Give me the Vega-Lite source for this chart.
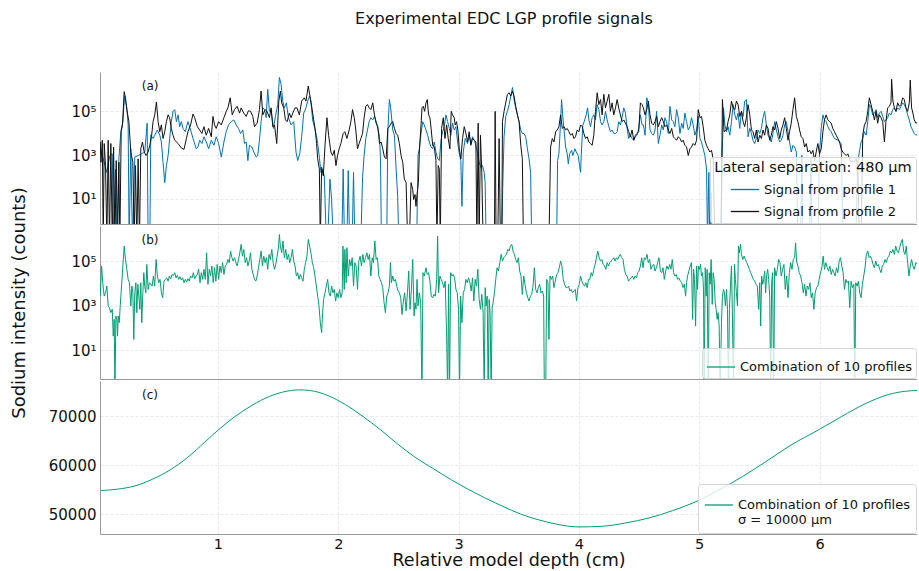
{
  "$schema": "https://vega.github.io/schema/vega-lite/v6.json",
  "background": "white",
  "padding": {"left": 10, "top": 11, "right": 0, "bottom": 0},
  "bounds": "flush",
  "title": {"text": "Experimental EDC LGP profile signals", "fontSize": 16, "font": "DejaVu Sans", "fontWeight": "normal", "anchor": "middle", "dx": 40, "offset": 45, "color": "#111111"},
  "datasets": {
    "p1": [
{"d":0.022,"v":3.29},{"d":0.047,"v":2.83},{"d":0.075,"v":2.21},{"d":0.102,"v":2.98},{"d":0.122,"v":3.06},{"d":0.135,"v":-1},{"d":0.149,"v":2.36},{"d":0.16,"v":-1},{"d":0.177,"v":2.83},{"d":0.193,"v":4.07},{"d":0.21,"v":4.53},{"d":0.224,"v":5.7},{"d":0.243,"v":5.16},{"d":0.254,"v":4.38},{"d":0.262,"v":-1},{"d":0.276,"v":3.29},{"d":0.29,"v":-1},{"d":0.309,"v":2.91},{"d":0.337,"v":2.98},{"d":0.365,"v":3.06},{"d":0.392,"v":3.14},{"d":0.412,"v":4.46},{"d":0.42,"v":-1},{"d":0.434,"v":-1},{"d":0.442,"v":3.91},{"d":0.461,"v":3.76},{"d":0.475,"v":3.91},{"d":0.497,"v":4.15},{"d":0.517,"v":3.91},{"d":0.53,"v":3.6},{"d":0.544,"v":2.67},{"d":0.558,"v":1.74},{"d":0.572,"v":2.52},{"d":0.586,"v":2.98},{"d":0.599,"v":3.76},{"d":0.613,"v":4.53},{"d":0.627,"v":5.0},{"d":0.641,"v":5.08},{"d":0.655,"v":4.53},{"d":0.669,"v":4.84},{"d":0.682,"v":4.3},{"d":0.696,"v":4.53},{"d":0.71,"v":4.22},{"d":0.729,"v":4.07},{"d":0.751,"v":4.53},{"d":0.773,"v":4.15},{"d":0.793,"v":3.76},{"d":0.82,"v":3.29},{"d":0.834,"v":3.37},{"d":0.848,"v":3.68},{"d":0.867,"v":3.53},{"d":0.884,"v":3.84},{"d":0.903,"v":3.6},{"d":0.923,"v":3.29},{"d":0.945,"v":3.68},{"d":0.967,"v":3.45},{"d":0.986,"v":3.84},{"d":1.006,"v":3.53},{"d":1.028,"v":2.91},{"d":1.05,"v":3.6},{"d":1.069,"v":4.07},{"d":1.088,"v":4.38},{"d":1.11,"v":4.53},{"d":1.133,"v":4.61},{"d":1.152,"v":4.38},{"d":1.171,"v":4.22},{"d":1.188,"v":3.99},{"d":1.207,"v":4.15},{"d":1.221,"v":3.53},{"d":1.235,"v":3.6},{"d":1.249,"v":2.75},{"d":1.262,"v":3.45},{"d":1.282,"v":3.37},{"d":1.298,"v":3.14},{"d":1.318,"v":2.91},{"d":1.331,"v":2.98},{"d":1.345,"v":3.68},{"d":1.359,"v":4.53},{"d":1.373,"v":5.16},{"d":1.387,"v":5.08},{"d":1.401,"v":4.71},{"d":1.414,"v":6.01},{"d":1.428,"v":5.0},{"d":1.442,"v":5.08},{"d":1.461,"v":4.22},{"d":1.478,"v":4.77},{"d":1.497,"v":5.31},{"d":1.511,"v":6.55},{"d":1.525,"v":6.24},{"d":1.539,"v":5.47},{"d":1.552,"v":5.16},{"d":1.569,"v":5.39},{"d":1.586,"v":4.71},{"d":1.608,"v":4.38},{"d":1.63,"v":4.53},{"d":1.649,"v":3.14},{"d":1.663,"v":2.75},{"d":1.68,"v":3.06},{"d":1.696,"v":3.84},{"d":1.713,"v":4.92},{"d":1.732,"v":5.16},{"d":1.746,"v":5.47},{"d":1.762,"v":5.7},{"d":1.773,"v":5.47},{"d":1.787,"v":4.61},{"d":1.801,"v":4.3},{"d":1.818,"v":3.91},{"d":1.829,"v":3.53},{"d":1.843,"v":2.91},{"d":1.856,"v":2.21},{"d":1.87,"v":2.36},{"d":1.884,"v":2.05},{"d":1.901,"v":-1},{"d":1.912,"v":-1},{"d":1.931,"v":1.9},{"d":1.945,"v":0.97},{"d":1.959,"v":-1},{"d":2.03,"v":-1},{"d":2.041,"v":2.36},{"d":2.052,"v":-1},{"d":2.072,"v":-1},{"d":2.083,"v":2.29},{"d":2.094,"v":-1},{"d":2.116,"v":-1},{"d":2.127,"v":2.21},{"d":2.138,"v":-1},{"d":2.188,"v":-1},{"d":2.202,"v":1.98},{"d":2.215,"v":2.98},{"d":2.229,"v":3.76},{"d":2.243,"v":4.15},{"d":2.257,"v":4.53},{"d":2.271,"v":4.71},
{"d":2.287,"v":4.61},{"d":2.301,"v":4.77},{"d":2.315,"v":4.53},{"d":2.329,"v":4.22},{"d":2.343,"v":3.84},{"d":2.351,"v":2.83},{"d":2.359,"v":-1},{"d":2.403,"v":-1},{"d":2.412,"v":4.07},{"d":2.425,"v":5.54},{"d":2.436,"v":5.16},{"d":2.453,"v":4.15},{"d":2.467,"v":3.91},{"d":2.481,"v":2.36},{"d":2.494,"v":1.12},{"d":2.503,"v":-1},{"d":2.652,"v":-1},{"d":2.663,"v":2.98},{"d":2.674,"v":3.29},{"d":2.688,"v":3.99},{"d":2.702,"v":4.53},{"d":2.715,"v":4.38},{"d":2.729,"v":4.15},{"d":2.743,"v":3.91},{"d":2.757,"v":3.6},{"d":2.771,"v":3.37},{"d":2.785,"v":3.29},{"d":2.798,"v":3.6},{"d":2.812,"v":3.14},{"d":2.826,"v":2.83},{"d":2.84,"v":2.75},{"d":2.854,"v":3.68},{"d":2.867,"v":4.07},{"d":2.881,"v":4.3},{"d":2.895,"v":4.84},{"d":2.909,"v":4.53},{"d":2.923,"v":4.22},{"d":2.936,"v":3.91},{"d":2.95,"v":4.46},{"d":2.964,"v":4.15},{"d":2.978,"v":4.3},{"d":2.992,"v":3.6},{"d":3.006,"v":3.06},{"d":3.019,"v":2.75},{"d":3.028,"v":0.66},{"d":3.039,"v":3.14},{"d":3.055,"v":3.76},{"d":3.075,"v":3.53},{"d":3.088,"v":3.91},{"d":3.102,"v":3.53},{"d":3.116,"v":3.84},{"d":3.13,"v":3.68},{"d":3.144,"v":3.45},{"d":3.157,"v":3.06},{"d":3.171,"v":2.67},{"d":3.185,"v":2.44},{"d":3.199,"v":2.52},{"d":3.213,"v":2.21},{"d":3.221,"v":1.74},{"d":3.229,"v":-1},{"d":3.359,"v":-1},{"d":3.367,"v":1.51},{"d":3.378,"v":3.84},{"d":3.392,"v":4.77},{"d":3.406,"v":5.0},{"d":3.42,"v":5.31},{"d":3.434,"v":5.7},{"d":3.448,"v":6.09},{"d":3.461,"v":5.54},{"d":3.475,"v":5.16},{"d":3.489,"v":4.84},{"d":3.503,"v":4.53},{"d":3.517,"v":4.15},{"d":3.53,"v":3.99},{"d":3.544,"v":3.99},{"d":3.558,"v":3.84},{"d":3.572,"v":3.29},{"d":3.586,"v":2.83},{"d":3.599,"v":2.21},{"d":3.608,"v":-1},{"d":3.815,"v":-1},{"d":3.823,"v":2.75},{"d":3.834,"v":3.06},{"d":3.848,"v":4.53},{"d":3.856,"v":5.54},{"d":3.867,"v":4.71},{"d":3.878,"v":4.07},{"d":3.89,"v":3.37},{"d":3.903,"v":3.06},{"d":3.912,"v":2.6},{"d":3.923,"v":3.06},{"d":3.939,"v":3.22},{"d":3.95,"v":2.98},{"d":3.967,"v":3.29},{"d":3.978,"v":3.14},{"d":3.994,"v":2.98},{"d":4.006,"v":2.52},{"d":4.014,"v":2.21},{"d":4.022,"v":3.29},{"d":4.033,"v":4.38},{"d":4.044,"v":4.53},{"d":4.061,"v":4.84},{"d":4.072,"v":5.16},{"d":4.083,"v":4.61},{"d":4.097,"v":4.3},{"d":4.11,"v":4.71},{"d":4.124,"v":4.84},{"d":4.138,"v":4.61},{"d":4.152,"v":5.31},{"d":4.166,"v":5.08},{"d":4.18,"v":4.53},{"d":4.193,"v":4.38},{"d":4.207,"v":4.53},{"d":4.221,"v":5.0},{"d":4.235,"v":4.61},{"d":4.249,"v":4.3},{"d":4.262,"v":4.07},{"d":4.276,"v":4.15},{"d":4.29,"v":3.99},{"d":4.304,"v":3.99},{"d":4.318,"v":4.07},{"d":4.331,"v":4.53},{"d":4.345,"v":4.38},{"d":4.359,"v":4.71},{"d":4.373,"v":5.16},{"d":4.387,"v":4.92},{"d":4.401,"v":4.22},{"d":4.414,"v":3.76},{"d":4.428,"v":3.91},{"d":4.442,"v":3.76},{"d":4.456,"v":3.68},{"d":4.47,"v":3.84},{"d":4.483,"v":3.91},{"d":4.497,"v":4.22},{"d":4.511,"v":4.84},{"d":4.525,"v":4.38},
{"d":4.536,"v":4.38},{"d":4.55,"v":3.91},{"d":4.564,"v":5.62},{"d":4.577,"v":5.39},{"d":4.591,"v":4.15},{"d":4.605,"v":3.99},{"d":4.619,"v":3.91},{"d":4.633,"v":4.15},{"d":4.646,"v":5.0},{"d":4.66,"v":3.53},{"d":4.674,"v":3.91},{"d":4.688,"v":4.38},{"d":4.702,"v":4.15},{"d":4.715,"v":4.71},{"d":4.729,"v":4.53},{"d":4.743,"v":3.99},{"d":4.757,"v":5.23},{"d":4.771,"v":4.61},{"d":4.785,"v":4.53},{"d":4.798,"v":4.3},{"d":4.812,"v":5.08},{"d":4.826,"v":4.71},{"d":4.84,"v":3.99},{"d":4.854,"v":4.46},{"d":4.867,"v":4.22},{"d":4.881,"v":4.92},{"d":4.895,"v":4.53},{"d":4.909,"v":4.15},{"d":4.923,"v":4.3},{"d":4.936,"v":4.71},{"d":4.95,"v":4.38},{"d":4.964,"v":3.91},{"d":4.978,"v":4.15},{"d":4.992,"v":4.77},{"d":5.006,"v":3.76},{"d":5.019,"v":3.6},{"d":5.033,"v":3.29},{"d":5.047,"v":2.98},{"d":5.061,"v":2.36},{"d":5.069,"v":-1},{"d":5.08,"v":2.21},{"d":5.088,"v":-1},{"d":5.099,"v":1.28},{"d":5.108,"v":-1},{"d":5.18,"v":-1},{"d":5.191,"v":2.98},{"d":5.202,"v":5.16},{"d":5.213,"v":4.38},{"d":5.227,"v":4.07},{"d":5.24,"v":4.3},{"d":5.254,"v":3.91},{"d":5.268,"v":4.53},{"d":5.282,"v":5.31},{"d":5.296,"v":4.84},{"d":5.309,"v":4.61},{"d":5.323,"v":4.92},{"d":5.337,"v":4.22},{"d":5.351,"v":5.0},{"d":5.365,"v":4.77},{"d":5.378,"v":5.47},{"d":5.392,"v":5.54},{"d":5.406,"v":3.84},{"d":5.42,"v":4.22},{"d":5.434,"v":3.99},{"d":5.447,"v":3.68},{"d":5.461,"v":3.53},{"d":5.475,"v":3.76},{"d":5.489,"v":4.15},{"d":5.503,"v":3.99},{"d":5.517,"v":4.22},{"d":5.53,"v":4.71},{"d":5.544,"v":5.0},{"d":5.558,"v":4.38},{"d":5.572,"v":3.91},{"d":5.586,"v":3.76},{"d":5.599,"v":3.6},{"d":5.613,"v":3.99},{"d":5.627,"v":4.53},{"d":5.641,"v":4.15},{"d":5.655,"v":3.84},{"d":5.669,"v":3.6},{"d":5.682,"v":3.68},{"d":5.696,"v":3.91},{"d":5.71,"v":4.38},{"d":5.724,"v":4.53},{"d":5.738,"v":4.07},{"d":5.751,"v":3.6},{"d":5.765,"v":3.14},{"d":5.779,"v":3.45},{"d":5.793,"v":3.37},{"d":5.807,"v":3.14},{"d":5.82,"v":-1},{"d":5.842,"v":-1},{"d":5.853,"v":2.98},{"d":5.862,"v":-1},{"d":5.917,"v":-1},{"d":5.928,"v":2.83},{"d":5.939,"v":-1},{"d":5.986,"v":-1},{"d":6.0,"v":3.14},{"d":6.014,"v":4.22},{"d":6.028,"v":4.84},{"d":6.041,"v":4.61},{"d":6.055,"v":4.53},{"d":6.069,"v":4.3},{"d":6.083,"v":4.15},{"d":6.097,"v":4.07},{"d":6.11,"v":3.91},{"d":6.124,"v":3.76},{"d":6.152,"v":3.68},{"d":6.18,"v":3.53},{"d":6.196,"v":-1},{"d":6.301,"v":-1},{"d":6.318,"v":2.67},{"d":6.331,"v":3.14},{"d":6.345,"v":3.6},{"d":6.359,"v":3.76},{"d":6.373,"v":4.07},{"d":6.387,"v":3.91},{"d":6.401,"v":4.53},{"d":6.414,"v":5.31},{"d":6.428,"v":5.16},{"d":6.442,"v":4.84},{"d":6.456,"v":4.92},{"d":6.47,"v":5.08},{"d":6.483,"v":4.71},{"d":6.497,"v":4.92},{"d":6.511,"v":5.0},{"d":6.525,"v":4.77},{"d":6.539,"v":4.53},{"d":6.552,"v":4.61},{"d":6.566,"v":4.71},{"d":6.58,"v":4.92},{"d":6.594,"v":4.84},{"d":6.608,"v":5.08},{"d":6.622,"v":5.16},{"d":6.635,"v":5.0},{"d":6.649,"v":5.16},{"d":6.663,"v":5.08},{"d":6.677,"v":5.23},{"d":6.691,"v":5.39},{"d":6.704,"v":5.31},{"d":6.718,"v":5.16},{"d":6.732,"v":4.84},{"d":6.746,"v":4.61},{"d":6.76,"v":4.3},{"d":6.773,"v":4.15},{"d":6.787,"v":3.99},{"d":6.801,"v":3.91},{"d":6.815,"v":3.95}
    ],
    "p2": [
{"d":0.022,"v":3.6},{"d":0.028,"v":2.67},{"d":0.039,"v":3.68},{"d":0.047,"v":-1},{"d":0.055,"v":3.53},{"d":0.066,"v":2.52},{"d":0.077,"v":-1},{"d":0.088,"v":3.68},{"d":0.099,"v":-1},{"d":0.11,"v":3.53},{"d":0.122,"v":-1},{"d":0.133,"v":3.37},{"d":0.144,"v":-1},{"d":0.155,"v":2.75},{"d":0.166,"v":-1},{"d":0.177,"v":2.67},{"d":0.185,"v":-1},{"d":0.196,"v":4.07},{"d":0.207,"v":4.38},{"d":0.221,"v":5.9},{"d":0.232,"v":5.62},{"d":0.243,"v":5.08},{"d":0.26,"v":4.53},{"d":0.276,"v":3.14},{"d":0.293,"v":2.67},{"d":0.304,"v":-1},{"d":0.315,"v":2.52},{"d":0.326,"v":-1},{"d":0.337,"v":2.83},{"d":0.348,"v":-1},{"d":0.359,"v":3.29},{"d":0.373,"v":3.6},{"d":0.387,"v":3.14},{"d":0.403,"v":2.98},{"d":0.42,"v":3.14},{"d":0.434,"v":3.45},{"d":0.448,"v":3.84},{"d":0.461,"v":4.53},{"d":0.475,"v":4.84},{"d":0.489,"v":5.43},{"d":0.503,"v":4.53},{"d":0.517,"v":4.07},{"d":0.53,"v":4.38},{"d":0.544,"v":3.76},{"d":0.558,"v":4.07},{"d":0.572,"v":4.53},{"d":0.586,"v":4.84},{"d":0.599,"v":4.71},{"d":0.613,"v":4.22},{"d":0.627,"v":3.91},{"d":0.641,"v":3.68},{"d":0.669,"v":3.53},{"d":0.696,"v":3.33},{"d":0.718,"v":3.26},{"d":0.738,"v":3.76},{"d":0.751,"v":4.07},{"d":0.773,"v":4.38},{"d":0.793,"v":4.88},{"d":0.807,"v":4.71},{"d":0.829,"v":4.3},{"d":0.848,"v":4.15},{"d":0.867,"v":3.99},{"d":0.884,"v":4.3},{"d":0.903,"v":3.91},{"d":0.923,"v":4.22},{"d":0.945,"v":3.84},{"d":0.959,"v":4.77},{"d":0.972,"v":4.38},{"d":0.986,"v":4.22},{"d":1.006,"v":4.53},{"d":1.028,"v":4.38},{"d":1.05,"v":4.71},{"d":1.069,"v":5.0},{"d":1.083,"v":5.16},{"d":1.102,"v":5.62},{"d":1.119,"v":4.84},{"d":1.138,"v":5.08},{"d":1.16,"v":5.23},{"d":1.18,"v":4.92},{"d":1.193,"v":5.16},{"d":1.215,"v":4.92},{"d":1.235,"v":4.77},{"d":1.254,"v":5.03},{"d":1.271,"v":5.0},{"d":1.29,"v":4.77},{"d":1.304,"v":4.3},{"d":1.326,"v":4.46},{"d":1.345,"v":5.08},{"d":1.359,"v":5.93},{"d":1.373,"v":4.84},{"d":1.392,"v":5.08},{"d":1.409,"v":5.0},{"d":1.428,"v":4.71},{"d":1.442,"v":5.16},{"d":1.456,"v":4.3},{"d":1.47,"v":4.38},{"d":1.489,"v":3.53},{"d":1.506,"v":5.47},{"d":1.519,"v":5.93},{"d":1.53,"v":5.39},{"d":1.547,"v":5.16},{"d":1.561,"v":4.61},{"d":1.575,"v":4.53},{"d":1.594,"v":4.92},{"d":1.608,"v":4.71},{"d":1.622,"v":4.92},{"d":1.641,"v":5.16},{"d":1.657,"v":5.16},{"d":1.677,"v":4.84},{"d":1.696,"v":5.47},{"d":1.718,"v":5.62},{"d":1.732,"v":5.47},{"d":1.751,"v":6.16},{"d":1.765,"v":5.7},{"d":1.779,"v":5.23},{"d":1.796,"v":4.61},{"d":1.809,"v":4.15},{"d":1.82,"v":3.53},{"d":1.829,"v":2.83},{"d":1.843,"v":2.36},{"d":1.851,"v":-1},{"d":1.862,"v":2.44},{"d":1.876,"v":2.05},{"d":1.89,"v":3.45},{"d":1.906,"v":4.71},{"d":1.92,"v":3.91},{"d":1.939,"v":3.14},{"d":1.953,"v":2.98},{"d":1.967,"v":3.22},{"d":1.981,"v":2.52},{"d":1.994,"v":2.98},{"d":2.008,"v":3.29},{"d":2.022,"v":3.53},{"d":2.041,"v":3.99},{"d":2.055,"v":4.07},{"d":2.072,"v":3.76},{"d":2.091,"v":4.15},{"d":2.105,"v":4.53},{"d":2.119,"v":5.08},{"d":2.133,"v":4.71},{"d":2.146,"v":4.15},{"d":2.16,"v":3.29},{"d":2.174,"v":3.53},{"d":2.188,"v":3.76},{"d":2.202,"v":3.99},{"d":2.215,"v":4.71},{"d":2.229,"v":5.23},{"d":2.243,"v":5.31},{"d":2.257,"v":5.16},{"d":2.271,"v":5.08},
{"d":2.287,"v":5.39},{"d":2.301,"v":4.84},{"d":2.315,"v":4.46},{"d":2.329,"v":4.3},{"d":2.343,"v":3.53},{"d":2.356,"v":3.6},{"d":2.37,"v":3.29},{"d":2.384,"v":2.91},{"d":2.398,"v":2.83},{"d":2.412,"v":4.22},{"d":2.425,"v":4.3},{"d":2.439,"v":4.46},{"d":2.453,"v":4.53},{"d":2.467,"v":4.22},{"d":2.481,"v":3.99},{"d":2.494,"v":3.91},{"d":2.508,"v":3.53},{"d":2.522,"v":2.98},{"d":2.536,"v":2.67},{"d":2.549,"v":1.9},{"d":2.564,"v":1.74},{"d":2.577,"v":-1},{"d":2.591,"v":-1},{"d":2.605,"v":1.74},{"d":2.619,"v":1.43},{"d":2.627,"v":0.97},{"d":2.638,"v":1.2},{"d":2.646,"v":0.66},{"d":2.655,"v":1.2},{"d":2.666,"v":1.74},{"d":2.674,"v":3.14},{"d":2.688,"v":4.38},{"d":2.696,"v":5.16},{"d":2.707,"v":5.23},{"d":2.718,"v":5.0},{"d":2.729,"v":5.39},{"d":2.74,"v":5.54},{"d":2.751,"v":4.84},{"d":2.762,"v":4.71},{"d":2.773,"v":4.15},{"d":2.785,"v":3.45},{"d":2.798,"v":3.37},{"d":2.812,"v":2.75},{"d":2.82,"v":-1},{"d":2.831,"v":2.52},{"d":2.84,"v":2.36},{"d":2.848,"v":-1},{"d":2.859,"v":4.22},{"d":2.873,"v":4.71},{"d":2.887,"v":3.76},{"d":2.901,"v":4.38},{"d":2.914,"v":3.76},{"d":2.928,"v":3.29},{"d":2.939,"v":5.0},{"d":2.95,"v":4.84},{"d":2.964,"v":4.71},{"d":2.972,"v":4.38},{"d":2.983,"v":4.53},{"d":2.994,"v":4.15},{"d":3.006,"v":3.29},{"d":3.019,"v":2.83},{"d":3.033,"v":3.76},{"d":3.047,"v":4.3},{"d":3.061,"v":3.99},{"d":3.075,"v":3.6},{"d":3.088,"v":4.07},{"d":3.102,"v":3.45},{"d":3.116,"v":3.76},{"d":3.13,"v":3.68},{"d":3.144,"v":3.6},{"d":3.152,"v":-1},{"d":3.163,"v":4.46},{"d":3.171,"v":-1},{"d":3.182,"v":3.91},{"d":3.193,"v":2.21},{"d":3.204,"v":-1},{"d":3.298,"v":-1},{"d":3.304,"v":5.0},{"d":3.312,"v":-1},{"d":3.326,"v":-1},{"d":3.337,"v":3.76},{"d":3.348,"v":-1},{"d":3.359,"v":-1},{"d":3.365,"v":4.53},{"d":3.378,"v":5.0},{"d":3.392,"v":5.39},{"d":3.406,"v":5.78},{"d":3.42,"v":5.85},{"d":3.434,"v":5.7},{"d":3.448,"v":5.93},{"d":3.461,"v":5.7},{"d":3.475,"v":5.23},{"d":3.489,"v":4.84},{"d":3.503,"v":4.53},{"d":3.517,"v":3.45},{"d":3.53,"v":2.83},{"d":3.539,"v":-1},{"d":3.751,"v":-1},{"d":3.765,"v":3.37},{"d":3.779,"v":3.76},{"d":3.793,"v":3.6},{"d":3.807,"v":4.07},{"d":3.82,"v":4.15},{"d":3.834,"v":4.3},{"d":3.848,"v":4.84},{"d":3.862,"v":4.22},{"d":3.876,"v":4.3},{"d":3.89,"v":4.15},{"d":3.903,"v":4.22},{"d":3.917,"v":4.07},{"d":3.931,"v":3.91},{"d":3.945,"v":3.99},{"d":3.959,"v":3.76},{"d":3.972,"v":3.84},{"d":3.986,"v":4.15},{"d":4.0,"v":4.07},{"d":4.014,"v":4.38},{"d":4.028,"v":4.3},{"d":4.041,"v":3.99},{"d":4.055,"v":3.76},{"d":4.069,"v":3.84},{"d":4.083,"v":3.6},{"d":4.097,"v":3.53},{"d":4.11,"v":3.45},{"d":4.124,"v":3.91},{"d":4.138,"v":5.0},{"d":4.152,"v":5.85},{"d":4.166,"v":5.31},{"d":4.18,"v":5.54},{"d":4.193,"v":4.84},{"d":4.207,"v":5.78},{"d":4.221,"v":5.16},{"d":4.235,"v":5.47},{"d":4.249,"v":5.78},{"d":4.262,"v":5.0},{"d":4.276,"v":5.39},{"d":4.29,"v":4.84},{"d":4.304,"v":5.16},{"d":4.318,"v":5.54},{"d":4.331,"v":5.16},{"d":4.345,"v":4.84},{"d":4.359,"v":4.53},{"d":4.373,"v":4.61},{"d":4.387,"v":4.46},{"d":4.401,"v":4.3},{"d":4.414,"v":4.07},{"d":4.428,"v":3.84},{"d":4.442,"v":4.15},{"d":4.456,"v":3.68},{"d":4.47,"v":3.91},{"d":4.483,"v":3.99},{"d":4.497,"v":4.07},{"d":4.511,"v":5.39},{"d":4.525,"v":5.31},
{"d":4.536,"v":5.16},{"d":4.55,"v":4.84},{"d":4.564,"v":5.08},{"d":4.577,"v":5.47},{"d":4.591,"v":4.84},{"d":4.605,"v":4.46},{"d":4.619,"v":4.38},{"d":4.633,"v":4.53},{"d":4.646,"v":4.77},{"d":4.66,"v":4.3},{"d":4.674,"v":4.53},{"d":4.688,"v":4.71},{"d":4.702,"v":4.53},{"d":4.715,"v":4.3},{"d":4.729,"v":4.38},{"d":4.743,"v":4.15},{"d":4.757,"v":3.99},{"d":4.771,"v":4.22},{"d":4.785,"v":3.84},{"d":4.798,"v":3.76},{"d":4.812,"v":3.68},{"d":4.826,"v":3.84},{"d":4.84,"v":3.76},{"d":4.854,"v":3.6},{"d":4.867,"v":3.68},{"d":4.881,"v":3.45},{"d":4.895,"v":3.37},{"d":4.909,"v":2.98},{"d":4.923,"v":3.29},{"d":4.936,"v":3.37},{"d":4.95,"v":3.53},{"d":4.964,"v":3.45},{"d":4.978,"v":3.68},{"d":4.992,"v":5.08},{"d":5.006,"v":4.71},{"d":5.019,"v":4.77},{"d":5.033,"v":4.3},{"d":5.047,"v":3.68},{"d":5.061,"v":3.45},{"d":5.075,"v":3.29},{"d":5.088,"v":3.14},{"d":5.102,"v":3.22},{"d":5.116,"v":2.83},{"d":5.13,"v":-1},{"d":5.18,"v":-1},{"d":5.193,"v":5.54},{"d":5.207,"v":4.07},{"d":5.227,"v":4.15},{"d":5.24,"v":4.53},{"d":5.254,"v":4.84},{"d":5.268,"v":5.47},{"d":5.282,"v":5.16},{"d":5.296,"v":5.08},{"d":5.309,"v":5.47},{"d":5.323,"v":5.31},{"d":5.337,"v":4.77},{"d":5.351,"v":5.0},{"d":5.365,"v":4.53},{"d":5.378,"v":4.3},{"d":5.392,"v":4.71},{"d":5.406,"v":5.31},{"d":5.42,"v":4.84},{"d":5.434,"v":4.15},{"d":5.447,"v":4.07},{"d":5.461,"v":3.76},{"d":5.475,"v":4.15},{"d":5.489,"v":3.6},{"d":5.503,"v":3.91},{"d":5.517,"v":3.76},{"d":5.53,"v":4.15},{"d":5.544,"v":3.91},{"d":5.558,"v":4.38},{"d":5.572,"v":4.22},{"d":5.586,"v":3.68},{"d":5.599,"v":3.91},{"d":5.613,"v":4.3},{"d":5.627,"v":4.15},{"d":5.641,"v":4.53},{"d":5.655,"v":4.22},{"d":5.669,"v":3.76},{"d":5.682,"v":4.15},{"d":5.696,"v":4.38},{"d":5.71,"v":4.71},{"d":5.724,"v":4.22},{"d":5.738,"v":3.68},{"d":5.751,"v":4.07},{"d":5.765,"v":4.46},{"d":5.779,"v":5.08},{"d":5.793,"v":5.62},{"d":5.807,"v":4.77},{"d":5.82,"v":4.53},{"d":5.834,"v":4.15},{"d":5.848,"v":3.84},{"d":5.862,"v":3.76},{"d":5.876,"v":3.37},{"d":5.89,"v":3.53},{"d":5.903,"v":3.14},{"d":5.917,"v":3.22},{"d":5.931,"v":3.06},{"d":5.945,"v":3.22},{"d":5.959,"v":2.75},{"d":5.972,"v":3.14},{"d":5.986,"v":3.53},{"d":6.0,"v":3.06},{"d":6.014,"v":3.29},{"d":6.028,"v":4.07},{"d":6.041,"v":4.61},{"d":6.055,"v":4.84},{"d":6.069,"v":4.61},{"d":6.083,"v":4.53},{"d":6.097,"v":4.46},{"d":6.11,"v":4.22},{"d":6.124,"v":4.07},{"d":6.138,"v":3.91},{"d":6.152,"v":3.76},{"d":6.166,"v":3.6},{"d":6.18,"v":3.29},{"d":6.193,"v":3.14},{"d":6.207,"v":3.06},{"d":6.221,"v":2.98},{"d":6.235,"v":3.06},{"d":6.249,"v":2.83},{"d":6.262,"v":2.67},{"d":6.276,"v":2.75},{"d":6.29,"v":2.67},{"d":6.304,"v":2.83},{"d":6.318,"v":2.52},{"d":6.331,"v":-1},{"d":6.345,"v":-1},{"d":6.359,"v":3.91},{"d":6.373,"v":4.38},{"d":6.387,"v":4.53},{"d":6.401,"v":5.0},{"d":6.414,"v":5.62},{"d":6.428,"v":5.31},{"d":6.442,"v":5.0},{"d":6.456,"v":4.61},{"d":6.47,"v":5.0},{"d":6.483,"v":4.46},{"d":6.497,"v":4.84},{"d":6.511,"v":4.71},{"d":6.525,"v":4.53},{"d":6.539,"v":3.6},{"d":6.552,"v":4.53},{"d":6.566,"v":5.16},{"d":6.58,"v":5.23},{"d":6.594,"v":5.39},{"d":6.599,"v":6.47},{"d":6.61,"v":5.47},{"d":6.622,"v":5.16},{"d":6.635,"v":5.0},{"d":6.649,"v":5.39},{"d":6.663,"v":5.23},{"d":6.677,"v":5.31},{"d":6.691,"v":5.62},{"d":6.704,"v":5.54},{"d":6.718,"v":5.16},{"d":6.732,"v":5.0},{"d":6.746,"v":5.39},{"d":6.754,"v":6.43},{"d":6.765,"v":5.16},{"d":6.776,"v":4.92},{"d":6.787,"v":4.61},{"d":6.801,"v":4.46},{"d":6.815,"v":4.5}
    ],
    "comb": [
{"d":0.022,"v":3.43},{"d":0.033,"v":4.78},{"d":0.044,"v":3.96},{"d":0.055,"v":3.43},{"d":0.066,"v":3.58},{"d":0.077,"v":3.88},{"d":0.088,"v":2.99},{"d":0.099,"v":2.91},{"d":0.11,"v":2.69},{"d":0.122,"v":2.84},{"d":0.13,"v":1.64},{"d":0.138,"v":2.39},{"d":0.144,"v":-1},{"d":0.152,"v":2.54},{"d":0.16,"v":2.39},{"d":0.166,"v":1.64},{"d":0.171,"v":2.54},{"d":0.18,"v":2.24},{"d":0.188,"v":2.99},{"d":0.199,"v":3.88},{"d":0.21,"v":4.78},{"d":0.221,"v":5.67},{"d":0.232,"v":5.07},{"d":0.243,"v":4.63},{"d":0.254,"v":4.18},{"d":0.265,"v":4.03},{"d":0.276,"v":2.99},{"d":0.285,"v":3.88},{"d":0.293,"v":3.58},{"d":0.301,"v":1.49},{"d":0.309,"v":3.58},{"d":0.318,"v":4.03},{"d":0.326,"v":2.69},{"d":0.334,"v":3.96},{"d":0.343,"v":3.43},{"d":0.351,"v":2.84},{"d":0.359,"v":4.03},{"d":0.367,"v":2.24},{"d":0.376,"v":3.58},{"d":0.384,"v":4.48},{"d":0.392,"v":3.88},{"d":0.401,"v":3.58},{"d":0.409,"v":4.85},{"d":0.42,"v":3.73},{"d":0.431,"v":4.03},{"d":0.442,"v":3.96},{"d":0.453,"v":3.88},{"d":0.464,"v":4.33},{"d":0.475,"v":3.88},{"d":0.486,"v":5.07},{"d":0.497,"v":4.33},{"d":0.508,"v":4.03},{"d":0.519,"v":4.18},{"d":0.53,"v":3.58},{"d":0.541,"v":3.36},{"d":0.552,"v":4.1},{"d":0.564,"v":4.18},{"d":0.575,"v":4.25},{"d":0.586,"v":4.1},{"d":0.597,"v":4.33},{"d":0.608,"v":4.21},{"d":0.619,"v":4.4},{"d":0.63,"v":4.36},{"d":0.641,"v":4.48},{"d":0.652,"v":4.25},{"d":0.663,"v":4.36},{"d":0.674,"v":4.18},{"d":0.685,"v":4.3},{"d":0.696,"v":4.15},{"d":0.707,"v":4.25},{"d":0.718,"v":4.03},{"d":0.729,"v":4.18},{"d":0.74,"v":4.06},{"d":0.751,"v":4.21},{"d":0.762,"v":4.1},{"d":0.773,"v":4.33},{"d":0.785,"v":4.25},{"d":0.796,"v":4.48},{"d":0.807,"v":4.21},{"d":0.818,"v":4.33},{"d":0.829,"v":4.4},{"d":0.84,"v":4.63},{"d":0.851,"v":4.03},{"d":0.862,"v":4.48},{"d":0.873,"v":4.18},{"d":0.884,"v":4.63},{"d":0.895,"v":4.18},{"d":0.906,"v":5.37},{"d":0.917,"v":3.96},{"d":0.928,"v":4.63},{"d":0.939,"v":4.33},{"d":0.95,"v":4.78},{"d":0.961,"v":4.03},{"d":0.972,"v":4.7},{"d":0.983,"v":4.1},{"d":0.994,"v":4.85},{"d":1.006,"v":4.18},{"d":1.017,"v":4.78},{"d":1.028,"v":4.48},{"d":1.039,"v":4.93},{"d":1.05,"v":4.4},{"d":1.061,"v":4.78},{"d":1.072,"v":4.85},{"d":1.083,"v":5.07},{"d":1.094,"v":4.93},{"d":1.105,"v":5.45},{"d":1.116,"v":5.15},{"d":1.127,"v":5.0},{"d":1.138,"v":5.15},{"d":1.149,"v":4.93},{"d":1.16,"v":4.78},{"d":1.171,"v":5.07},{"d":1.182,"v":5.37},{"d":1.193,"v":5.75},{"d":1.204,"v":5.22},{"d":1.215,"v":5.52},{"d":1.227,"v":4.93},{"d":1.238,"v":5.15},{"d":1.249,"v":4.78},{"d":1.26,"v":5.0},{"d":1.271,"v":5.37},{"d":1.282,"v":4.63},{"d":1.293,"v":4.4},{"d":1.304,"v":4.18},{"d":1.315,"v":4.1},{"d":1.326,"v":4.33},{"d":1.337,"v":4.7},{"d":1.348,"v":5.07},{"d":1.359,"v":5.45},{"d":1.37,"v":4.78},{"d":1.381,"v":5.22},{"d":1.392,"v":4.93},{"d":1.403,"v":5.15},{"d":1.414,"v":4.63},{"d":1.425,"v":5.3},{"d":1.436,"v":5.07},{"d":1.448,"v":5.52},{"d":1.459,"v":4.93},{"d":1.47,"v":4.63},{"d":1.481,"v":4.85},{"d":1.492,"v":5.22},{"d":1.503,"v":5.6},{"d":1.511,"v":6.19},{"d":1.519,"v":5.67},{"d":1.53,"v":5.37},{"d":1.541,"v":5.9},{"d":1.552,"v":5.15},{"d":1.564,"v":5.52},{"d":1.575,"v":5.07},{"d":1.586,"v":5.3},{"d":1.597,"v":4.93},{"d":1.608,"v":5.15},{"d":1.619,"v":5.52},{"d":1.63,"v":5.0},{"d":1.641,"v":4.78},{"d":1.652,"v":4.33},{"d":1.663,"v":4.48},{"d":1.674,"v":4.18},{"d":1.685,"v":4.4},{"d":1.696,"v":4.25},{"d":1.707,"v":4.1},{"d":1.718,"v":4.63},{"d":1.729,"v":4.93},{"d":1.74,"v":5.22},{"d":1.751,"v":5.97},{"d":1.762,"v":5.67},{"d":1.773,"v":5.37},{"d":1.785,"v":4.93},{"d":1.796,"v":4.7},{"d":1.807,"v":4.33},{"d":1.818,"v":3.88},{"d":1.829,"v":3.43},{"d":1.84,"v":2.99},{"d":1.851,"v":2.24},{"d":1.862,"v":1.79},{"d":1.87,"v":2.69},{"d":1.878,"v":3.28},{"d":1.89,"v":3.58},{"d":1.901,"v":3.88},{"d":1.912,"v":4.18},{"d":1.923,"v":3.58},{"d":1.934,"v":3.43},{"d":1.945,"v":3.88},{"d":1.956,"v":3.58},{"d":1.967,"v":3.73},{"d":1.978,"v":3.21},{"d":1.989,"v":3.58},{"d":2.0,"v":3.36},{"d":2.011,"v":3.73},{"d":2.022,"v":3.36},{"d":2.033,"v":3.58},{"d":2.039,"v":5.67},{"d":2.05,"v":3.73},{"d":2.055,"v":5.52},{"d":2.066,"v":4.03},{"d":2.072,"v":5.6},{"d":2.083,"v":4.33},{"d":2.094,"v":5.07},{"d":2.105,"v":4.78},{"d":2.116,"v":5.15},{"d":2.127,"v":3.88},{"d":2.138,"v":4.93},{"d":2.149,"v":4.78},{"d":2.16,"v":3.73},{"d":2.171,"v":5.0},{"d":2.182,"v":5.22},{"d":2.193,"v":4.78},{"d":2.204,"v":5.3},{"d":2.215,"v":4.93},{"d":2.227,"v":5.15},{"d":2.238,"v":5.37},{"d":2.249,"v":5.07},{"d":2.26,"v":5.3},{"d":2.271,"v":4.33},
{"d":2.282,"v":5.15},{"d":2.293,"v":4.93},{"d":2.304,"v":5.9},{"d":2.315,"v":5.07},{"d":2.326,"v":5.15},{"d":2.337,"v":4.33},{"d":2.348,"v":4.18},{"d":2.359,"v":4.03},{"d":2.37,"v":3.81},{"d":2.381,"v":3.13},{"d":2.392,"v":2.69},{"d":2.403,"v":3.43},{"d":2.414,"v":3.58},{"d":2.425,"v":3.88},{"d":2.434,"v":4.93},{"d":2.442,"v":4.03},{"d":2.453,"v":4.33},{"d":2.464,"v":4.1},{"d":2.475,"v":4.18},{"d":2.486,"v":3.88},{"d":2.497,"v":3.66},{"d":2.508,"v":3.58},{"d":2.519,"v":3.36},{"d":2.53,"v":2.61},{"d":2.541,"v":3.21},{"d":2.552,"v":3.58},{"d":2.564,"v":2.76},{"d":2.575,"v":3.58},{"d":2.586,"v":4.55},{"d":2.597,"v":2.84},{"d":2.608,"v":3.73},{"d":2.619,"v":5.07},{"d":2.63,"v":2.54},{"d":2.638,"v":3.13},{"d":2.646,"v":2.84},{"d":2.655,"v":4.18},{"d":2.663,"v":2.99},{"d":2.674,"v":3.58},{"d":2.685,"v":3.13},{"d":2.696,"v":-1},{"d":2.704,"v":4.48},{"d":2.715,"v":4.33},{"d":2.729,"v":4.7},{"d":2.74,"v":4.4},{"d":2.751,"v":4.48},{"d":2.762,"v":4.1},{"d":2.773,"v":3.43},{"d":2.785,"v":3.36},{"d":2.796,"v":3.51},{"d":2.807,"v":3.43},{"d":2.818,"v":4.18},{"d":2.826,"v":6.12},{"d":2.834,"v":3.58},{"d":2.845,"v":4.33},{"d":2.856,"v":4.18},{"d":2.867,"v":4.03},{"d":2.878,"v":3.81},{"d":2.889,"v":4.1},{"d":2.901,"v":1.64},{"d":2.909,"v":-1},{"d":2.917,"v":3.96},{"d":2.925,"v":-1},{"d":2.934,"v":4.48},{"d":2.945,"v":4.33},{"d":2.956,"v":4.4},{"d":2.967,"v":4.25},{"d":2.978,"v":3.73},{"d":2.989,"v":3.58},{"d":3.0,"v":2.84},{"d":3.008,"v":-1},{"d":3.017,"v":3.43},{"d":3.028,"v":2.24},{"d":3.039,"v":3.58},{"d":3.05,"v":3.73},{"d":3.061,"v":4.18},{"d":3.072,"v":4.03},{"d":3.083,"v":4.25},{"d":3.094,"v":4.03},{"d":3.105,"v":3.66},{"d":3.116,"v":4.25},{"d":3.127,"v":3.21},{"d":3.138,"v":4.18},{"d":3.149,"v":3.88},{"d":3.16,"v":4.63},{"d":3.171,"v":3.28},{"d":3.182,"v":2.84},{"d":3.193,"v":3.51},{"d":3.204,"v":2.69},{"d":3.213,"v":-1},{"d":3.221,"v":3.81},{"d":3.229,"v":2.99},{"d":3.238,"v":3.43},{"d":3.246,"v":-1},{"d":3.254,"v":3.28},{"d":3.262,"v":2.69},{"d":3.271,"v":-1},{"d":3.279,"v":2.91},{"d":3.287,"v":3.13},{"d":3.298,"v":3.58},{"d":3.309,"v":4.18},{"d":3.32,"v":4.7},{"d":3.331,"v":4.55},{"d":3.343,"v":4.93},{"d":3.354,"v":5.3},{"d":3.365,"v":5.0},{"d":3.376,"v":5.15},{"d":3.387,"v":5.22},{"d":3.398,"v":5.3},{"d":3.409,"v":5.52},{"d":3.42,"v":5.45},{"d":3.431,"v":5.67},{"d":3.442,"v":5.75},{"d":3.453,"v":5.45},{"d":3.464,"v":5.3},{"d":3.475,"v":5.07},{"d":3.486,"v":4.93},{"d":3.497,"v":5.15},{"d":3.508,"v":4.55},{"d":3.519,"v":4.33},{"d":3.53,"v":3.51},{"d":3.541,"v":4.33},{"d":3.552,"v":3.96},{"d":3.564,"v":3.58},{"d":3.575,"v":3.36},{"d":3.586,"v":3.21},{"d":3.597,"v":3.43},{"d":3.608,"v":3.51},{"d":3.619,"v":3.88},{"d":3.63,"v":4.7},{"d":3.641,"v":3.73},{"d":3.652,"v":3.58},{"d":3.663,"v":3.81},{"d":3.674,"v":3.96},{"d":3.685,"v":3.58},{"d":3.696,"v":3.66},{"d":3.707,"v":3.43},{"d":3.713,"v":-1},{"d":3.724,"v":-1},{"d":3.732,"v":4.18},{"d":3.743,"v":4.03},{"d":3.751,"v":1.49},{"d":3.76,"v":4.33},{"d":3.771,"v":4.18},{"d":3.782,"v":4.33},{"d":3.793,"v":3.81},{"d":3.804,"v":4.1},{"d":3.815,"v":4.4},{"d":3.826,"v":4.48},{"d":3.837,"v":4.7},{"d":3.848,"v":5.0},{"d":3.859,"v":4.78},{"d":3.87,"v":4.18},{"d":3.881,"v":3.96},{"d":3.892,"v":3.81},{"d":3.903,"v":3.81},{"d":3.914,"v":3.88},{"d":3.925,"v":3.66},{"d":3.936,"v":3.73},{"d":3.947,"v":3.58},{"d":3.959,"v":3.66},{"d":3.97,"v":3.73},{"d":3.981,"v":3.21},{"d":3.992,"v":3.81},{"d":4.003,"v":3.96},{"d":4.014,"v":4.33},{"d":4.025,"v":4.1},{"d":4.036,"v":3.96},{"d":4.047,"v":3.88},{"d":4.058,"v":4.03},{"d":4.069,"v":3.81},{"d":4.08,"v":4.18},{"d":4.091,"v":4.18},{"d":4.102,"v":4.48},{"d":4.113,"v":4.33},{"d":4.124,"v":4.63},{"d":4.135,"v":4.85},{"d":4.146,"v":5.15},{"d":4.157,"v":5.45},{"d":4.169,"v":5.15},{"d":4.18,"v":5.0},{"d":4.191,"v":5.07},{"d":4.202,"v":4.85},{"d":4.213,"v":4.78},{"d":4.224,"v":4.63},{"d":4.235,"v":4.93},{"d":4.246,"v":4.78},{"d":4.257,"v":4.93},{"d":4.268,"v":5.0},{"d":4.279,"v":5.07},{"d":4.29,"v":5.15},{"d":4.301,"v":5.0},{"d":4.312,"v":5.15},{"d":4.323,"v":5.07},{"d":4.334,"v":5.22},{"d":4.345,"v":5.3},{"d":4.356,"v":5.15},{"d":4.367,"v":5.07},{"d":4.378,"v":4.63},{"d":4.39,"v":4.4},{"d":4.401,"v":4.33},{"d":4.412,"v":4.1},{"d":4.423,"v":4.18},{"d":4.434,"v":4.25},{"d":4.445,"v":4.33},{"d":4.456,"v":4.18},{"d":4.467,"v":4.33},{"d":4.478,"v":4.25},{"d":4.489,"v":4.48},{"d":4.5,"v":4.55},{"d":4.511,"v":4.78},{"d":4.522,"v":5.15},
{"d":4.533,"v":4.7},{"d":4.544,"v":5.15},{"d":4.555,"v":5.07},{"d":4.566,"v":5.3},{"d":4.577,"v":4.93},{"d":4.588,"v":5.07},{"d":4.599,"v":4.63},{"d":4.61,"v":4.78},{"d":4.622,"v":4.85},{"d":4.633,"v":4.55},{"d":4.644,"v":4.7},{"d":4.655,"v":4.93},{"d":4.666,"v":5.15},{"d":4.677,"v":4.55},{"d":4.688,"v":4.48},{"d":4.699,"v":4.7},{"d":4.71,"v":4.18},{"d":4.721,"v":4.55},{"d":4.732,"v":4.78},{"d":4.743,"v":4.63},{"d":4.754,"v":4.85},{"d":4.765,"v":4.63},{"d":4.776,"v":5.07},{"d":4.787,"v":4.48},{"d":4.798,"v":4.33},{"d":4.809,"v":4.4},{"d":4.82,"v":4.18},{"d":4.831,"v":4.25},{"d":4.843,"v":4.1},{"d":4.854,"v":4.03},{"d":4.865,"v":3.81},{"d":4.876,"v":3.96},{"d":4.887,"v":3.43},{"d":4.895,"v":4.03},{"d":4.903,"v":4.33},{"d":4.914,"v":4.55},{"d":4.925,"v":4.78},{"d":4.936,"v":4.93},{"d":4.945,"v":2.39},{"d":4.953,"v":4.63},{"d":4.961,"v":4.18},{"d":4.97,"v":2.09},{"d":4.978,"v":4.78},{"d":4.986,"v":3.73},{"d":4.994,"v":4.78},{"d":5.003,"v":4.63},{"d":5.011,"v":4.85},{"d":5.019,"v":4.33},{"d":5.028,"v":4.48},{"d":5.036,"v":3.73},{"d":5.041,"v":-1},{"d":5.05,"v":4.7},{"d":5.058,"v":3.43},{"d":5.066,"v":4.63},{"d":5.075,"v":-1},{"d":5.083,"v":4.48},{"d":5.091,"v":3.96},{"d":5.099,"v":5.07},{"d":5.108,"v":3.06},{"d":5.116,"v":4.48},{"d":5.124,"v":4.18},{"d":5.133,"v":3.13},{"d":5.141,"v":2.84},{"d":5.149,"v":2.39},{"d":5.157,"v":2.69},{"d":5.166,"v":2.09},{"d":5.174,"v":-1},{"d":5.185,"v":2.24},{"d":5.193,"v":3.43},{"d":5.202,"v":3.73},{"d":5.21,"v":3.58},{"d":5.218,"v":2.99},{"d":5.227,"v":3.73},{"d":5.235,"v":2.84},{"d":5.243,"v":-1},{"d":5.251,"v":2.84},{"d":5.26,"v":3.88},{"d":5.268,"v":4.78},{"d":5.276,"v":2.54},{"d":5.285,"v":-1},{"d":5.293,"v":4.85},{"d":5.301,"v":4.18},{"d":5.309,"v":3.58},{"d":5.318,"v":2.99},{"d":5.326,"v":5.67},{"d":5.334,"v":5.37},{"d":5.343,"v":5.75},{"d":5.351,"v":5.3},{"d":5.362,"v":5.07},{"d":5.373,"v":5.22},{"d":5.384,"v":5.07},{"d":5.395,"v":4.93},{"d":5.406,"v":4.78},{"d":5.417,"v":4.63},{"d":5.428,"v":4.48},{"d":5.439,"v":4.33},{"d":5.45,"v":4.18},{"d":5.461,"v":4.1},{"d":5.472,"v":3.96},{"d":5.483,"v":3.88},{"d":5.494,"v":2.84},{"d":5.503,"v":4.03},{"d":5.511,"v":2.09},{"d":5.519,"v":4.33},{"d":5.528,"v":3.96},{"d":5.536,"v":4.18},{"d":5.544,"v":4.55},{"d":5.552,"v":3.58},{"d":5.561,"v":4.4},{"d":5.569,"v":4.63},{"d":5.577,"v":4.18},{"d":5.586,"v":3.43},{"d":5.594,"v":-1},{"d":5.602,"v":4.03},{"d":5.61,"v":4.48},{"d":5.619,"v":-1},{"d":5.627,"v":4.7},{"d":5.638,"v":4.33},{"d":5.649,"v":4.63},{"d":5.66,"v":5.07},{"d":5.671,"v":4.93},{"d":5.682,"v":4.33},{"d":5.693,"v":4.63},{"d":5.704,"v":4.85},{"d":5.715,"v":3.73},{"d":5.727,"v":4.33},{"d":5.738,"v":3.36},{"d":5.749,"v":4.48},{"d":5.76,"v":4.93},{"d":5.771,"v":4.63},{"d":5.782,"v":5.07},{"d":5.793,"v":5.15},{"d":5.801,"v":5.82},{"d":5.809,"v":5.0},{"d":5.82,"v":4.78},{"d":5.831,"v":4.48},{"d":5.843,"v":4.33},{"d":5.854,"v":4.03},{"d":5.865,"v":3.58},{"d":5.876,"v":3.96},{"d":5.887,"v":3.43},{"d":5.898,"v":3.88},{"d":5.909,"v":3.73},{"d":5.92,"v":4.03},{"d":5.931,"v":3.36},{"d":5.942,"v":3.58},{"d":5.953,"v":2.84},{"d":5.964,"v":3.58},{"d":5.975,"v":3.81},{"d":5.986,"v":3.88},{"d":5.997,"v":4.18},{"d":6.008,"v":4.48},{"d":6.019,"v":4.7},{"d":6.03,"v":5.22},{"d":6.041,"v":4.63},{"d":6.052,"v":4.93},{"d":6.064,"v":4.7},{"d":6.075,"v":4.55},{"d":6.086,"v":4.78},{"d":6.097,"v":4.4},{"d":6.108,"v":4.63},{"d":6.119,"v":4.48},{"d":6.13,"v":4.33},{"d":6.141,"v":4.7},{"d":6.152,"v":4.48},{"d":6.163,"v":5.0},{"d":6.174,"v":5.15},{"d":6.185,"v":4.78},{"d":6.196,"v":4.48},{"d":6.207,"v":3.73},{"d":6.218,"v":4.18},{"d":6.229,"v":4.03},{"d":6.24,"v":4.1},{"d":6.251,"v":2.91},{"d":6.262,"v":4.1},{"d":6.273,"v":3.81},{"d":6.285,"v":3.96},{"d":6.293,"v":-1},{"d":6.301,"v":4.03},{"d":6.312,"v":3.88},{"d":6.323,"v":4.1},{"d":6.334,"v":3.58},{"d":6.345,"v":3.36},{"d":6.356,"v":3.96},{"d":6.367,"v":4.33},{"d":6.378,"v":4.7},{"d":6.389,"v":5.3},{"d":6.401,"v":5.45},{"d":6.412,"v":5.15},{"d":6.423,"v":5.22},{"d":6.434,"v":5.07},{"d":6.445,"v":4.85},{"d":6.456,"v":4.7},{"d":6.467,"v":5.0},{"d":6.478,"v":4.78},{"d":6.489,"v":4.85},{"d":6.5,"v":4.63},{"d":6.511,"v":4.48},{"d":6.522,"v":4.78},{"d":6.533,"v":4.85},{"d":6.544,"v":5.07},{"d":6.555,"v":4.93},{"d":6.566,"v":5.15},{"d":6.577,"v":5.22},{"d":6.588,"v":5.45},{"d":6.599,"v":5.37},{"d":6.61,"v":5.52},{"d":6.622,"v":5.3},{"d":6.633,"v":5.67},{"d":6.644,"v":5.45},{"d":6.655,"v":5.37},{"d":6.666,"v":5.6},{"d":6.677,"v":5.82},{"d":6.688,"v":5.97},{"d":6.699,"v":5.45},{"d":6.71,"v":5.3},{"d":6.721,"v":5.67},{"d":6.732,"v":4.93},{"d":6.743,"v":4.33},{"d":6.754,"v":4.78},{"d":6.765,"v":5.07},{"d":6.776,"v":4.78},{"d":6.787,"v":4.63},{"d":6.801,"v":4.93},{"d":6.815,"v":4.85}
    ],
    "smooth": [
{"d":0.029,"v":54800},{"d":0.165,"v":55070},{"d":0.311,"v":55740},{"d":0.456,"v":57100},{"d":0.602,"v":58990},{"d":0.748,"v":61550},{"d":0.893,"v":64730},{"d":1.0,"v":67090},{"d":1.136,"v":69800},{"d":1.282,"v":72160},{"d":1.427,"v":73990},{"d":1.573,"v":75070},{"d":1.67,"v":75340},{"d":1.767,"v":75200},{"d":1.913,"v":74190},{"d":2.058,"v":72360},{"d":2.204,"v":69930},{"d":2.35,"v":67230},{"d":2.495,"v":64260},{"d":2.641,"v":61550},{"d":2.786,"v":59320},{"d":2.932,"v":57100},{"d":3.078,"v":55070},{"d":3.223,"v":53240},{"d":3.369,"v":51550},{"d":3.515,"v":50000},{"d":3.66,"v":48850},{"d":3.806,"v":47970},{"d":4.0,"v":47360},{"d":4.194,"v":47500},{"d":4.388,"v":48170},{"d":4.583,"v":49190},{"d":4.777,"v":50680},{"d":4.995,"v":52770},{"d":5.165,"v":54930},{"d":5.359,"v":57630},{"d":5.553,"v":60680},{"d":5.748,"v":63850},{"d":6.0,"v":67300},{"d":6.184,"v":69900},{"d":6.379,"v":72500},{"d":6.573,"v":74390},{"d":6.718,"v":75070},{"d":6.815,"v":75220}
    ]
  },
  "spacing": 2,
  "resolve": {"scale": {"color": "independent", "x": "independent", "y": "independent"}, "legend": {"color": "independent"}},
  "vconcat": [
    {
      "width": 817,
      "height": 152,
      "layer": [
        {
          "data": {"name": "p1"},
          "mark": {"type": "line", "strokeWidth": 1, "clip": true},
          "encoding": {
            "x": {"field": "d", "type": "quantitative", "scale": {"domain": [0.02, 6.81], "nice": false, "zero": false}, "axis": {"values": [1, 2, 3, 4, 5, 6], "labels": false, "ticks": false, "title": null}},
            "y": {"field": "v", "type": "quantitative", "scale": {"domain": [-0.15, 6.8], "nice": false, "zero": false}, "axis": {"values": [1, 3, 5], "title": null, "labelExpr": "datum.value == 5 ? '10⁵' : datum.value == 3 ? '10³' : '10¹'"}},
            "color": {"datum": "Signal from profile 1", "type": "nominal", "scale": {"domain": ["Signal from profile 1", "Signal from profile 2"], "range": ["#0173b2", "#111111"]}, "legend": {"title": "Lateral separation: 480 µm", "titleFontSize": 14.5, "titleAnchor": "middle", "titlePadding": -1, "rowPadding": -2, "padding": 4}}
          }
        },
        {
          "data": {"name": "p2"},
          "mark": {"type": "line", "strokeWidth": 1, "clip": true},
          "encoding": {
            "x": {"field": "d", "type": "quantitative"},
            "y": {"field": "v", "type": "quantitative"},
            "color": {"datum": "Signal from profile 2", "type": "nominal"}
          }
        },
        {
          "data": {"values": [{"label": "(a)"}]},
          "mark": {"type": "text", "fontSize": 12, "color": "#111111", "align": "center", "baseline": "middle"},
          "encoding": {"x": {"datum": 0.436}, "y": {"datum": 6.18}, "text": {"field": "label"}}
        }
      ]
    },
    {
      "width": 817,
      "height": 153,
      "layer": [
        {
          "data": {"name": "comb"},
          "mark": {"type": "line", "strokeWidth": 1, "clip": true},
          "encoding": {
            "x": {"field": "d", "type": "quantitative", "scale": {"domain": [0.02, 6.81], "nice": false, "zero": false}, "axis": {"values": [1, 2, 3, 4, 5, 6], "labels": false, "ticks": false, "title": null}},
            "y": {"field": "v", "type": "quantitative", "scale": {"domain": [-0.28, 6.57], "nice": false, "zero": false}, "axis": {"values": [1, 3, 5], "title": "Sodium intensity (counts)", "titleFontSize": 18, "titlePadding": 42, "labelExpr": "datum.value == 5 ? '10⁵' : datum.value == 3 ? '10³' : '10¹'"}},
            "color": {"datum": "Combination of 10 profiles", "type": "nominal", "scale": {"range": ["#029e73"]}, "legend": {"title": null, "padding": 4}}
          }
        },
        {
          "data": {"values": [{"label": "(b)"}]},
          "mark": {"type": "text", "fontSize": 12, "color": "#111111", "align": "center", "baseline": "middle"},
          "encoding": {"x": {"datum": 0.436}, "y": {"datum": 5.93}, "text": {"field": "label"}}
        }
      ]
    },
    {
      "width": 817,
      "height": 153,
      "layer": [
        {
          "data": {"name": "smooth"},
          "mark": {"type": "line", "strokeWidth": 1, "clip": true, "interpolate": "monotone"},
          "encoding": {
            "x": {"field": "d", "type": "quantitative", "scale": {"domain": [0.02, 6.81], "nice": false, "zero": false}, "axis": {"values": [1, 2, 3, 4, 5, 6], "format": "d", "title": "Relative model depth (cm)", "titleFontSize": 17.5, "titlePadding": 1, "ticks": false, "labelPadding": 3, "labelFontSize": 14.5}},
            "y": {"field": "v", "type": "quantitative", "scale": {"domain": [45920, 77150], "nice": false, "zero": false}, "axis": {"values": [50000, 60000, 70000], "format": "d", "title": null}},
            "color": {"datum": "Combination of 10 profiles|σ = 10000 µm", "type": "nominal", "scale": {"range": ["#029e73"]}, "legend": {"title": null, "labelExpr": "split(datum.label, '|')"}}
          }
        },
        {
          "data": {"values": [{"label": "(c)"}]},
          "mark": {"type": "text", "fontSize": 12, "color": "#111111", "align": "center", "baseline": "middle"},
          "encoding": {"x": {"datum": 0.436}, "y": {"datum": 74290}, "text": {"field": "label"}}
        }
      ]
    }
  ],
  "config": {
    "font": "DejaVu Sans",
    "view": {"stroke": null},
    "axis": {"labelFont": "DejaVu Sans", "labelFontSize": 15, "labelColor": "#111111", "domainColor": "#999999", "tickColor": "#999999", "ticks": false, "labelPadding": 4, "gridColor": "#e2e2e2", "gridDash": [3, 2], "gridWidth": 0.8, "titleFont": "DejaVu Sans", "titleFontWeight": "normal", "titleColor": "#111111"},
    "legend": {"orient": "bottom-right", "offset": 1, "symbolType": "stroke", "symbolSize": 800, "symbolStrokeWidth": 1.3, "labelFont": "DejaVu Sans", "labelFontSize": 13, "labelColor": "#111111", "titleFont": "DejaVu Sans", "titleFontWeight": "normal", "titleColor": "#111111", "fillColor": "rgba(255,255,255,0.8)", "strokeColor": "#d5d5d5", "cornerRadius": 3, "padding": 6, "labelLimit": 400, "titleLimit": 400, "rowPadding": 5}
  }
}
